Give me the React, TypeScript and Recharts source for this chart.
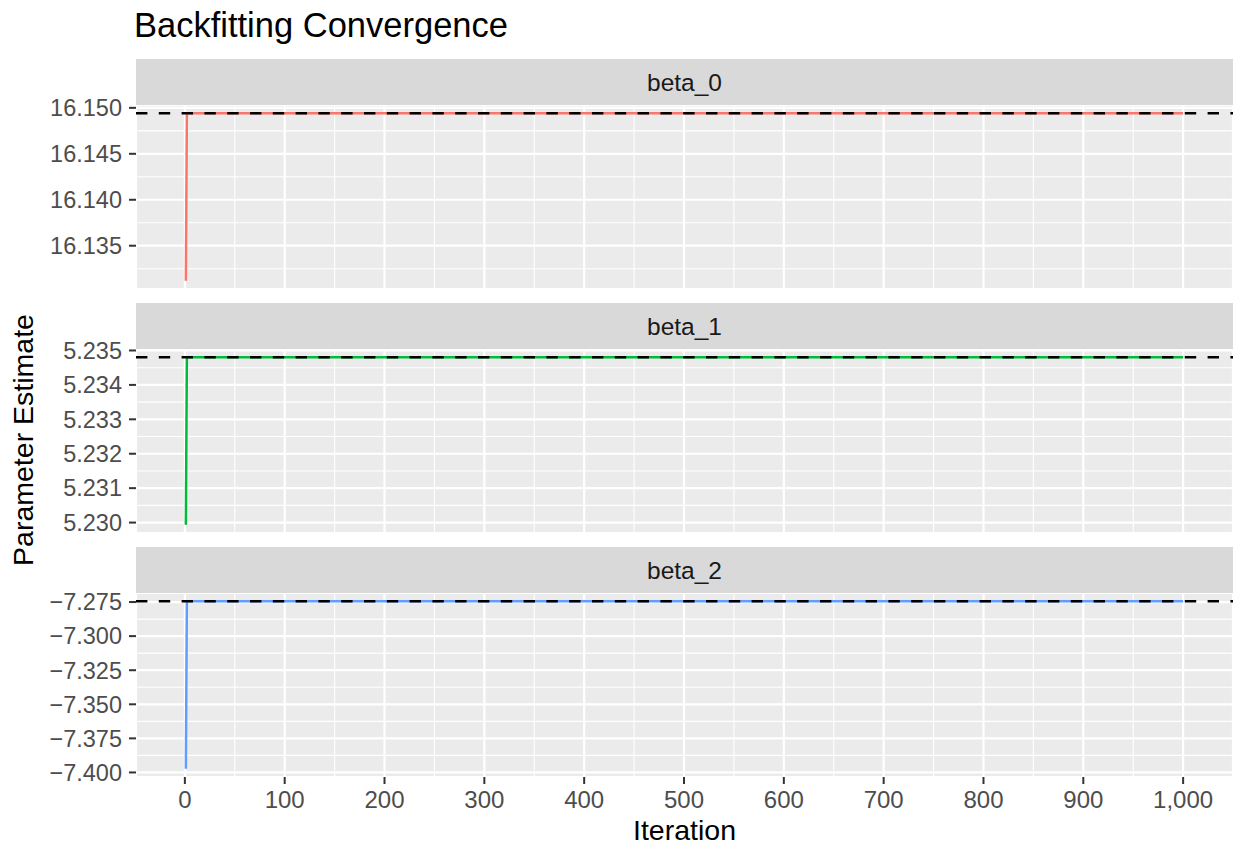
import React from "react"
import {
  LineChart,
  Line,
  XAxis,
  YAxis,
  CartesianGrid,
  ReferenceLine,
} from "recharts"

// iterations where the estimate changes (line is flat afterwards)
const iterations = [1, 2, 1000]

const beta0Values = [16.1312, 16.1494, 16.1494]
const beta1Values = [5.22994, 5.2348, 5.2348]
const beta2Values = [-7.3972, -7.2745, -7.2745]

const xTicks = [0, 100, 200, 300, 400, 500, 600, 700, 800, 900, 1000]
const xMinorTicks = [50, 150, 250, 350, 450, 550, 650, 750, 850, 950]

const beta0Ticks = [16.135, 16.14, 16.145, 16.15]
const beta0Minor = [16.1325, 16.1375, 16.1425, 16.1475]
const beta1Ticks = [5.23, 5.231, 5.232, 5.233, 5.234, 5.235]
const beta1Minor = [5.2305, 5.2315, 5.2325, 5.2335, 5.2345]
const beta2Ticks = [-7.4, -7.375, -7.35, -7.325, -7.3, -7.275]
const beta2Minor = [-7.3875, -7.3625, -7.3375, -7.3125, -7.2875]

const panelNames = ["beta_0", "beta_1", "beta_2"]
const panelColors = ["#F8766D", "#00BA38", "#619CFF"]

const W = 1239
const PLOT_LEFT = 136
const PLOT_RIGHT = 1233
const PANEL_H = 184
const STRIP_H = 46
const TOP_PAD = 24
const BOTTOM_PAD = 14
const stripTops = [59, 303, 547]

const FONT = "'Liberation Sans', Arial, Helvetica, sans-serif"

const expand = (vals: number[]): [number, number] => {
  const a = Math.min(...vals)
  const b = Math.max(...vals)
  const pad = (b - a) * 0.05
  return [a - pad, b + pad]
}

const xDomain = expand(iterations)

const fmtY = (v: number) => {
  const s = Math.abs(v).toFixed(3)
  return v < 0 ? "\u2212" + s : s
}
const fmtX = (v: number) => v.toLocaleString("en-US")

const mapScale = (axis: any, v: number, fallback: number) => {
  const s = axis?.scale
  if (typeof s === "function") return s(v)
  if (s && typeof s.map === "function") return s.map(v)
  return fallback
}

interface PanelProps {
  values: number[]
  color: string
  ticks: number[]
  minor: number[]
  top: number
  showX: boolean
}

function Panel({ values, color, ticks, minor, top, showX }: PanelProps) {
  const data = iterations.map((it, i) => ({ iter: it, value: values[i] }))
  const yDomain = expand(values)
  const xAxisH = 64
  const bottom = showX ? 0 : BOTTOM_PAD
  const h = TOP_PAD + PANEL_H + (showX ? xAxisH : bottom)

  return (
    <div style={{ position: "absolute", left: 0, top: top - TOP_PAD }}>
      <LineChart
        width={W}
        height={h}
        data={data}
        margin={{ top: TOP_PAD, right: W - PLOT_RIGHT, bottom, left: 0 }}
      >
        <CartesianGrid
          fill="#EBEBEB"
          stroke="#FFFFFF"
          strokeWidth={1.1}
          verticalCoordinatesGenerator={({ xAxis, offset }: any) =>
            xMinorTicks.map((v) =>
              mapScale(
                xAxis,
                v,
                offset.left + ((v - xDomain[0]) / (xDomain[1] - xDomain[0])) * offset.width
              )
            )
          }
          horizontalCoordinatesGenerator={({ yAxis, offset }: any) =>
            minor.map((v) =>
              mapScale(
                yAxis,
                v,
                offset.top + ((yDomain[1] - v) / (yDomain[1] - yDomain[0])) * offset.height
              )
            )
          }
        />
        <CartesianGrid stroke="#FFFFFF" strokeWidth={2.2} />
        <XAxis
          dataKey="iter"
          type="number"
          domain={xDomain}
          ticks={xTicks}
          interval={0}
          hide={!showX}
          height={xAxisH}
          tickFormatter={fmtX}
          axisLine={false}
          tickSize={7}
          tickMargin={7}
          tickLine={{ stroke: "#333333", strokeWidth: 2 }}
          tick={{ fill: "#4D4D4D", fontSize: 24 }}
        />
        <YAxis
          type="number"
          domain={yDomain}
          ticks={ticks}
          interval={0}
          width={PLOT_LEFT}
          tickFormatter={fmtY}
          axisLine={false}
          tickSize={7}
          tickMargin={7}
          tickLine={{ stroke: "#333333", strokeWidth: 2 }}
          tick={{ fill: "#4D4D4D", fontSize: 23.5 }}
          allowDataOverflow
        />
        <Line
          type="linear"
          dataKey="value"
          stroke={color}
          strokeWidth={2.5}
          dot={false}
          activeDot={false}
          isAnimationActive={false}
        />
        <ReferenceLine
          y={values[values.length - 1]}
          stroke="#000000"
          strokeWidth={2.5}
          strokeDasharray="11.4 11.4"
        />
      </LineChart>
    </div>
  )
}

export default function App() {
  const panelValues = [beta0Values, beta1Values, beta2Values]
  const panelTicks = [beta0Ticks, beta1Ticks, beta2Ticks]
  const panelMinor = [beta0Minor, beta1Minor, beta2Minor]

  return (
    <div
      style={{
        position: "absolute",
        left: 0,
        top: 0,
        width: W,
        height: 846,
        background: "#FFFFFF",
        fontFamily: FONT,
        overflow: "hidden",
      }}
    >
      {panelValues.map((vals, i) => (
        <Panel
          key={panelNames[i]}
          values={vals}
          color={panelColors[i]}
          ticks={panelTicks[i]}
          minor={panelMinor[i]}
          top={stripTops[i] + STRIP_H}
          showX={i === panelValues.length - 1}
        />
      ))}
      <svg
        width={W}
        height={846}
        style={{ position: "absolute", left: 0, top: 0, pointerEvents: "none" }}
        fontFamily={FONT}
      >
        <text x={134} y={37} fontSize={34.5} fill="#000000">
          Backfitting Convergence
        </text>
        {stripTops.map((t, i) => (
          <g key={panelNames[i]}>
            <rect x={PLOT_LEFT} y={t} width={PLOT_RIGHT - PLOT_LEFT} height={STRIP_H} fill="#D9D9D9" />
            <text
              x={(PLOT_LEFT + PLOT_RIGHT) / 2}
              y={t + 32}
              fontSize={24.5}
              fill="#1A1A1A"
              textAnchor="middle"
            >
              {panelNames[i]}
            </text>
          </g>
        ))}
        <text
          x={(PLOT_LEFT + PLOT_RIGHT) / 2}
          y={840}
          fontSize={28.5}
          fill="#000000"
          textAnchor="middle"
        >
          Iteration
        </text>
        <text
          x={33}
          y={440}
          fontSize={28.5}
          fill="#000000"
          textAnchor="middle"
          transform="rotate(-90 33 440)"
        >
          Parameter Estimate
        </text>
      </svg>
    </div>
  )
}
